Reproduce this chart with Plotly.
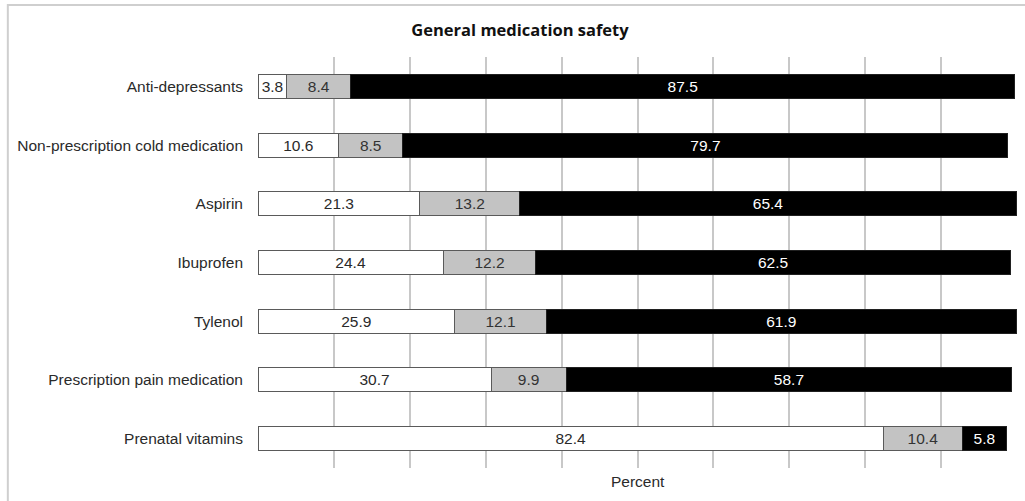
import plotly.graph_objects as go

categories = ["Anti-depressants", "Non-prescription cold medication", "Aspirin",
              "Ibuprofen", "Tylenol", "Prescription pain medication", "Prenatal vitamins"]
white_vals = [3.8, 10.6, 21.3, 24.4, 25.9, 30.7, 82.4]
gray_vals = [8.4, 8.5, 13.2, 12.2, 12.1, 9.9, 10.4]
black_vals = [87.5, 79.7, 65.4, 62.5, 61.9, 58.7, 5.8]

W, H = 1025, 501
FONT = "Arial"
FS = 15.5

fig = go.Figure()
series = [
    (white_vals, "#ffffff", "#2a2a2a", "#5a5a5a"),
    (gray_vals, "#c3c3c3", "#333333", "#5a5a5a"),
    (black_vals, "#000000", "#ffffff", "#202020"),
]
for vals, fill, tcol, lcol in series:
    fig.add_trace(go.Bar(
        y=categories, x=vals, orientation="h",
        marker=dict(color=fill, line=dict(color=lcol, width=1)),
        text=[f"{v:.1f}" for v in vals],
        textposition="inside", insidetextanchor="middle",
        textfont=dict(family=FONT, size=FS, color=tcol),
        hoverinfo="skip", showlegend=False,
    ))

fig.update_layout(
    width=W, height=H,
    barmode="stack", bargap=0.59,
    margin=dict(l=257.5, r=7.5, t=57, b=33),
    paper_bgcolor="white", plot_bgcolor="white",
    uniformtext=dict(minsize=FS, mode="show"),
    title=dict(text="<b>General medication safety</b>", xref="container", x=520 / W,
               xanchor="center", yref="container", y=1 - 30 / H, yanchor="middle",
               font=dict(family="Open Sans", size=16.5, color="#111111")),
    xaxis=dict(range=[0, 100], dtick=10, showticklabels=False, ticks="",
               showgrid=True, gridcolor="#c8c8c8", gridwidth=1.5,
               zeroline=False, showline=False, fixedrange=True),
    yaxis=dict(categoryorder="array", categoryarray=categories, autorange="reversed",
               showgrid=False, zeroline=False, showline=False, ticks="",
               ticklabelstandoff=14,
               tickfont=dict(family=FONT, size=FS, color="#2a2a2a")),
    font=dict(family=FONT, size=FS, color="#2a2a2a"),
)

fig.add_annotation(text="Percent", xref="paper", yref="paper", x=0.5, y=0,
                   xanchor="center", yanchor="top", yshift=-3, showarrow=False,
                   font=dict(family=FONT, size=FS, color="#2a2a2a"))

# outer chart frame (extends past right/bottom edges like the reference)
pw = W - 257.5 - 7.5
ph = H - 57 - 33
fig.add_shape(type="rect", xref="paper", yref="paper",
              x0=(7 - 257.5) / pw, x1=(1040 - 257.5) / pw,
              y0=(H - 33 - 520) / ph, y1=(H - 33 - 5) / ph,
              line=dict(color="#cfcfcf", width=2), fillcolor="rgba(0,0,0,0)", layer="below")

fig.write_html("out.html")
